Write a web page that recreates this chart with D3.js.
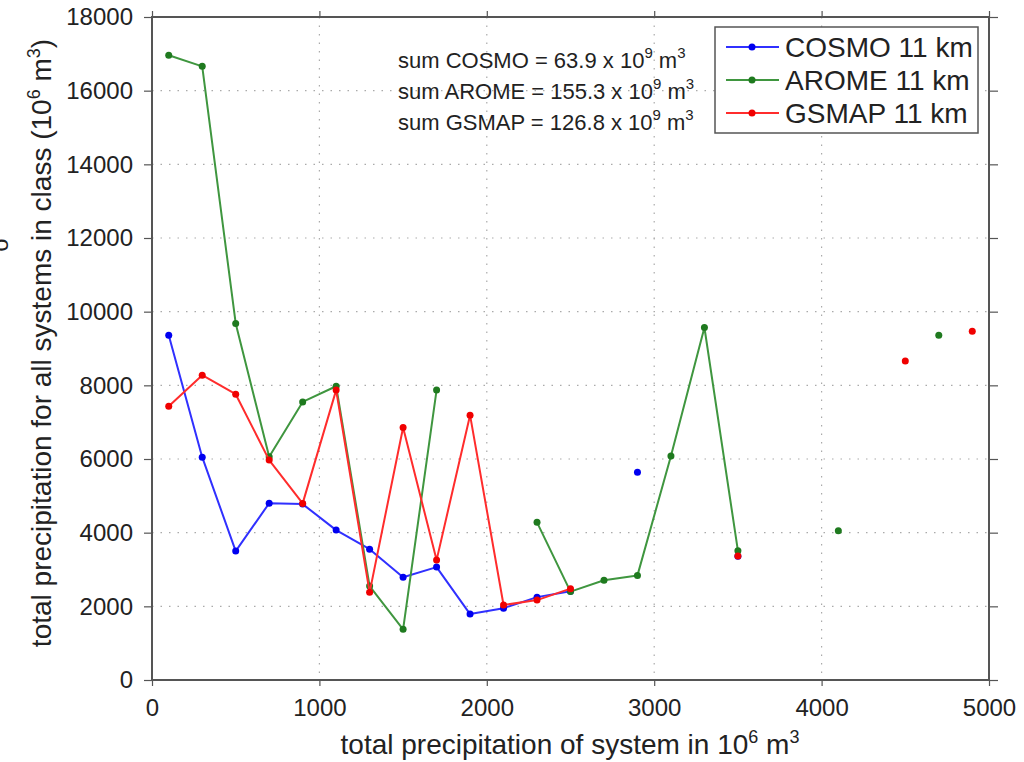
<!DOCTYPE html>
<html>
<head>
<meta charset="utf-8">
<script src="https://cdn.jsdelivr.net/npm/d3@7"></script>
<style>
  body { margin: 0; background: #fff; }
  text { font-family: "Liberation Sans", Arial, Helvetica, sans-serif; fill: #222; }
</style>
</head>
<body>
<div id="my_dataviz"></div>
<script>
// class centres (10^6 m^3)
var classes = [100, 300, 500, 700, 900, 1100, 1300, 1500, 1700, 1900, 2100, 2300, 2500,
               2700, 2900, 3100, 3300, 3500, 3700, 3900, 4100, 4300, 4500, 4700, 4900];

var cosmo = [9360, 6050, 3500, 4800, 4775, 4070, 3550, 2790, 3065, 1790, 1950, 2250, 2410,
             null, 5640, null, null, 3360, null, null, null, null, null, null, null];
var arome = [16960, 16660, 9680, 6060, 7550, 7975, 2550, 1375, 7870, null, null, 4280, 2400,
             2710, 2840, 6080, 9570, 3510, null, null, 4050, null, null, 9360, null];
var gsmap = [7430, 8275, 7760, 5970, 4795, 7870, 2380, 6855, 3255, 7190, 2035, 2170, 2480,
             null, null, null, null, 3365, null, null, null, null, 8660, null, 9470];

var seriesNames = ["COSMO 11 km", "AROME 11 km", "GSMAP 11 km"];
var sumNames = ["COSMO", "AROME", "GSMAP"];
var sumValues = ["63.9", "155.3", "126.8"];

var xTicks = [0, 1000, 2000, 3000, 4000, 5000];
var yTicks = [0, 2000, 4000, 6000, 8000, 10000, 12000, 14000, 16000, 18000];

var lineColors = ["#3030ff", "#3f963f", "#ff2c2c"];
var dotColors = ["#0000f0", "#1f7a1f", "#f00000"];

var plot = {left: 152, right: 989, top: 17, bottom: 680};

var svg = d3.select("#my_dataviz")
    .append("svg")
    .attr("width", 1024)
    .attr("height", 762);

var x = d3.scaleLinear().domain([0, 5000]).range([plot.left, plot.right]);
var y = d3.scaleLinear().domain([0, 18000]).range([plot.bottom, plot.top]);

// dotted grid
svg.append("g")
    .selectAll("line")
    .data(xTicks.slice(1, -1))
    .join("line")
    .attr("x1", d => x(d)).attr("x2", d => x(d))
    .attr("y1", plot.top).attr("y2", plot.bottom)
    .attr("stroke", "#aaa").attr("stroke-width", 1.2)
    .attr("stroke-dasharray", "1.5,7");

svg.append("g")
    .selectAll("line")
    .data(yTicks.slice(1, -1))
    .join("line")
    .attr("x1", plot.left).attr("x2", plot.right)
    .attr("y1", d => y(d)).attr("y2", d => y(d))
    .attr("stroke", "#aaa").attr("stroke-width", 1.2)
    .attr("stroke-dasharray", "1.5,7");

// axes
var axisColor = "#555";
var fmt = d3.format("d");

var axisB = svg.append("g")
    .attr("transform", `translate(0,${plot.bottom})`)
    .call(d3.axisBottom(x).tickValues(xTicks).tickFormat(fmt).tickSize(6).tickPadding(13));
var axisL = svg.append("g")
    .attr("transform", `translate(${plot.left},0)`)
    .call(d3.axisLeft(y).tickValues(yTicks).tickFormat(fmt).tickSize(8).tickPadding(11));
var axisT = svg.append("g")
    .attr("transform", `translate(0,${plot.top})`)
    .call(d3.axisTop(x).tickValues(xTicks).tickSize(6).tickFormat(""));
var axisR = svg.append("g")
    .attr("transform", `translate(${plot.right},0)`)
    .call(d3.axisRight(y).tickValues(yTicks).tickSize(9).tickFormat(""));

[axisB, axisL, axisT, axisR].forEach(function(g) {
    g.select(".domain").remove();
    g.selectAll(".tick line").attr("stroke", axisColor).attr("stroke-width", 1.2);
    g.selectAll(".tick text")
        .style("font-family", '"Liberation Sans", Arial, sans-serif')
        .style("font-size", "24px")
        .attr("fill", "#222");
});

svg.append("rect")
    .attr("x", plot.left).attr("y", plot.top)
    .attr("width", plot.right - plot.left)
    .attr("height", plot.bottom - plot.top)
    .attr("fill", "none")
    .attr("stroke", axisColor)
    .attr("stroke-width", 2);

// series
var allSeries = [cosmo, arome, gsmap];

allSeries.forEach(function(values, i) {
    var pts = classes.map(function(c, j) { return {x: c, y: values[j]}; });

    svg.append("path")
        .datum(pts)
        .attr("fill", "none")
        .attr("stroke", lineColors[i])
        .attr("stroke-width", 2)
        .attr("stroke-linejoin", "round")
        .attr("d", d3.line()
            .defined(function(d) { return d.y != null; })
            .x(function(d) { return x(d.x); })
            .y(function(d) { return y(d.y); })
        );

    svg.append("g")
        .selectAll("circle")
        .data(pts.filter(function(d) { return d.y != null; }))
        .join("circle")
        .attr("cx", d => x(d.x))
        .attr("cy", d => y(d.y))
        .attr("r", 3.5)
        .attr("fill", dotColors[i]);
});

// sums
var sums = svg.append("g");
sumNames.forEach(function(n, i) {
    var t = sums.append("text")
        .attr("x", 398)
        .attr("y", 68 + i * 31)
        .style("font-size", "22px");
    t.append("tspan").text("sum " + n + " = " + sumValues[i] + " x 10");
    t.append("tspan").attr("dy", -10).style("font-size", "15px").text("9");
    t.append("tspan").attr("dy", 10).text(" m");
    t.append("tspan").attr("dy", -10).style("font-size", "15px").text("3");
});

// legend
var legend = svg.append("g");
legend.append("rect")
    .attr("x", 715).attr("y", 27)
    .attr("width", 263).attr("height", 106)
    .attr("fill", "#fff")
    .attr("stroke", axisColor)
    .attr("stroke-width", 1.5);

seriesNames.forEach(function(name, i) {
    var ly = 47 + i * 33;
    legend.append("line")
        .attr("x1", 726).attr("x2", 779)
        .attr("y1", ly).attr("y2", ly)
        .attr("stroke", lineColors[i]).attr("stroke-width", 2);
    legend.append("circle")
        .attr("cx", 752).attr("cy", ly).attr("r", 3.5)
        .attr("fill", dotColors[i]);
    legend.append("text")
        .attr("x", 785).attr("y", ly + 10)
        .style("font-size", "28px")
        .text(name);
});

// axis titles
var xt = svg.append("text")
    .attr("x", 570).attr("y", 754)
    .attr("text-anchor", "middle")
    .style("font-size", "28px");
xt.append("tspan").text("total precipitation of system in 10");
xt.append("tspan").attr("dy", -11).style("font-size", "18px").text("6");
xt.append("tspan").attr("dy", 11).text(" m");
xt.append("tspan").attr("dy", -11).style("font-size", "18px").text("3");

var yt = svg.append("text")
    .attr("transform", "translate(51,343) rotate(-90)")
    .attr("text-anchor", "middle")
    .style("font-size", "28px");
yt.append("tspan").text("total precipitation for all systems in class (10");
yt.append("tspan").attr("dy", -11).style("font-size", "18px").text("6");
yt.append("tspan").attr("dy", 11).text(" m");
yt.append("tspan").attr("dy", -11).style("font-size", "18px").text("3");
yt.append("tspan").attr("dy", 11).text(")");

// clipped letter from the neighbouring panel
svg.append("text")
    .attr("transform", "translate(8,245) rotate(-90)")
    .attr("text-anchor", "middle")
    .style("font-size", "24px")
    .text("o");
</script>
</body>
</html>
